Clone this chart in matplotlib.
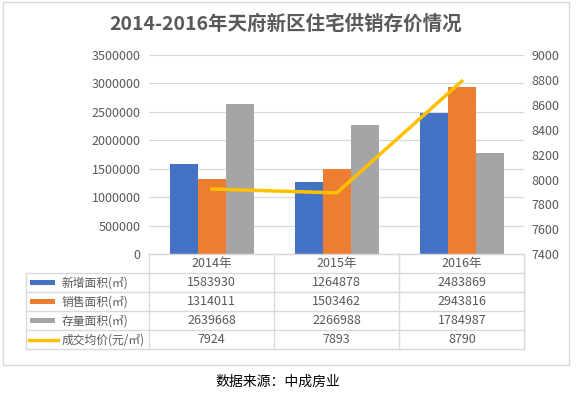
import matplotlib.pyplot as plt
from matplotlib.lines import Line2D
from matplotlib.patches import Rectangle
from matplotlib.transforms import blended_transform_factory


# 图表数据
YEARS = ["2014年", "2015年", "2016年"]
NEW_AREA = [1583930, 1264878, 2483869]
SOLD_AREA = [1314011, 1503462, 2943816]
STOCK_AREA = [2639668, 2266988, 1784987]
AVG_PRICE = [7924, 7893, 8790]

SERIES_NAMES = ["新增面积(㎡)", "销售面积(㎡)", "存量面积(㎡)", "成交均价(元/㎡)"]
LEFT_TICKS = [0, 500000, 1000000, 1500000, 2000000, 2500000, 3000000, 3500000]
RIGHT_TICKS = [7400, 7600, 7800, 8000, 8200, 8400, 8600, 8800, 9000]

TITLE = "2014-2016年天府新区住宅供销存价情况"
SOURCE = "数据来源：中成房业"

# 样式
BAR_COLORS = ["#4472C4", "#ED7D31", "#A5A5A5"]
LINE_COLOR = "#FFC000"
TEXT_COLOR = "#595959"
GRID_COLOR = "#D9D9D9"
FONT = ["Noto Sans CJK SC", "DejaVu Sans"]

WIDTH_PX, HEIGHT_PX = 577, 394


def fx(px: float) -> float:
    """像素 x 转换为图形坐标。"""
    return px / WIDTH_PX


def fy(py: float) -> float:
    """像素 y（自上而下）转换为图形坐标。"""
    return 1 - py / HEIGHT_PX


def draw_table(fig, ax) -> None:
    """在图表下方画出 Excel 风格的数据表。"""
    trans = blended_transform_factory(ax.transData, fig.transFigure)
    top, row_h = 254.3, 19.0
    n_rows = len(SERIES_NAMES) + 1
    bottom = top + row_h * n_rows
    legend_left = 25.7
    x_edges = [i - 0.5 for i in range(len(YEARS) + 1)]

    # 横线
    fig.add_artist(Line2D([x_edges[0], x_edges[-1]], [fy(top)] * 2, transform=trans,
                          color=GRID_COLOR, lw=1))
    for r in range(1, n_rows + 1):
        y = fy(top + r * row_h)
        fig.add_artist(Line2D([fx(legend_left), fx(524.3)], [y, y], color=GRID_COLOR, lw=1))
    # 竖线
    fig.add_artist(Line2D([fx(legend_left)] * 2, [fy(top + row_h), fy(bottom)],
                          color=GRID_COLOR, lw=1))
    for xe in x_edges:
        fig.add_artist(Line2D([xe, xe], [fy(top), fy(bottom)], transform=trans,
                              color=GRID_COLOR, lw=1))

    # 表头年份
    for i, year in enumerate(YEARS):
        fig.text(i, fy(top + row_h / 2), year, transform=trans, ha="center", va="center",
                 fontsize=9, color=TEXT_COLOR, family=FONT)

    rows = [NEW_AREA, SOLD_AREA, STOCK_AREA, AVG_PRICE]
    for r, (name, values) in enumerate(zip(SERIES_NAMES, rows)):
        yc = fy(top + row_h * (r + 1.5))
        for i, v in enumerate(values):
            fig.text(i, yc, f"{v}", transform=trans, ha="center", va="center",
                     fontsize=9, color=TEXT_COLOR, family=FONT)
        # 图例色块
        if r < 3:
            fig.add_artist(Rectangle((fx(30), yc - 2.5 / HEIGHT_PX), fx(55) - fx(30),
                                     5 / HEIGHT_PX, color=BAR_COLORS[r], lw=0))
        else:
            fig.add_artist(Line2D([fx(29), fx(58)], [yc, yc], color=LINE_COLOR, lw=2.5))
        fig.text(fx(61.5), yc, name, ha="left", va="center", fontsize=8.5,
                 color=TEXT_COLOR, family=FONT)


def main() -> None:
    fig = plt.figure(figsize=(WIDTH_PX / 100, HEIGHT_PX / 100), dpi=100)
    ax = fig.add_axes([fx(149.3), fy(254.3), fx(524.3) - fx(149.3), fy(55) - fy(254.3)])

    # 柱状图
    bar_w = 0.224
    x = list(range(len(YEARS)))
    for k, values in enumerate([NEW_AREA, SOLD_AREA, STOCK_AREA]):
        ax.bar([i + (k - 1) * bar_w for i in x], values, width=bar_w,
               color=BAR_COLORS[k], zorder=2)

    ax.set_xlim(-0.5, len(YEARS) - 0.5)
    ax.set_ylim(LEFT_TICKS[0], LEFT_TICKS[-1])
    ax.set_yticks(LEFT_TICKS)
    ax.set_yticklabels([str(t) for t in LEFT_TICKS])
    ax.set_xticks([])
    ax.grid(axis="y", color=GRID_COLOR, lw=0.9, zorder=0)
    ax.set_axisbelow(True)
    for side in ["top", "left", "right", "bottom"]:
        ax.spines[side].set_visible(False)
    ax.tick_params(axis="y", length=0, pad=6.2, labelsize=9, labelcolor=TEXT_COLOR)

    # 折线图（次坐标轴）
    ax2 = ax.twinx()
    ax2.plot(x, AVG_PRICE, color=LINE_COLOR, lw=2.5, zorder=3)
    ax2.set_ylim(RIGHT_TICKS[0], RIGHT_TICKS[-1])
    ax2.set_yticks(RIGHT_TICKS)
    ax2.set_yticklabels([str(t) for t in RIGHT_TICKS])
    for side in ["top", "left", "right", "bottom"]:
        ax2.spines[side].set_visible(False)
    ax2.tick_params(axis="y", length=0, pad=5.2, labelsize=9, labelcolor=TEXT_COLOR)

    for label in ax.get_yticklabels() + ax2.get_yticklabels():
        label.set_family(FONT)

    draw_table(fig, ax)

    # 标题、外框与数据来源
    fig.text(fx(286), fy(24), TITLE, ha="center", va="center", fontsize=14,
             fontweight="bold", color=TEXT_COLOR, family=FONT)
    fig.add_artist(Rectangle((fx(3.3), fy(365)), fx(569.3) - fx(3.3), fy(2.3) - fy(365),
                             fill=False, edgecolor=GRID_COLOR, lw=1))
    fig.text(fx(278), fy(382), SOURCE, ha="center", va="center", fontsize=10,
             color="black", family=FONT)

    fig.savefig("out.png", dpi=100)
    plt.close(fig)


if __name__ == "__main__":
    main()
